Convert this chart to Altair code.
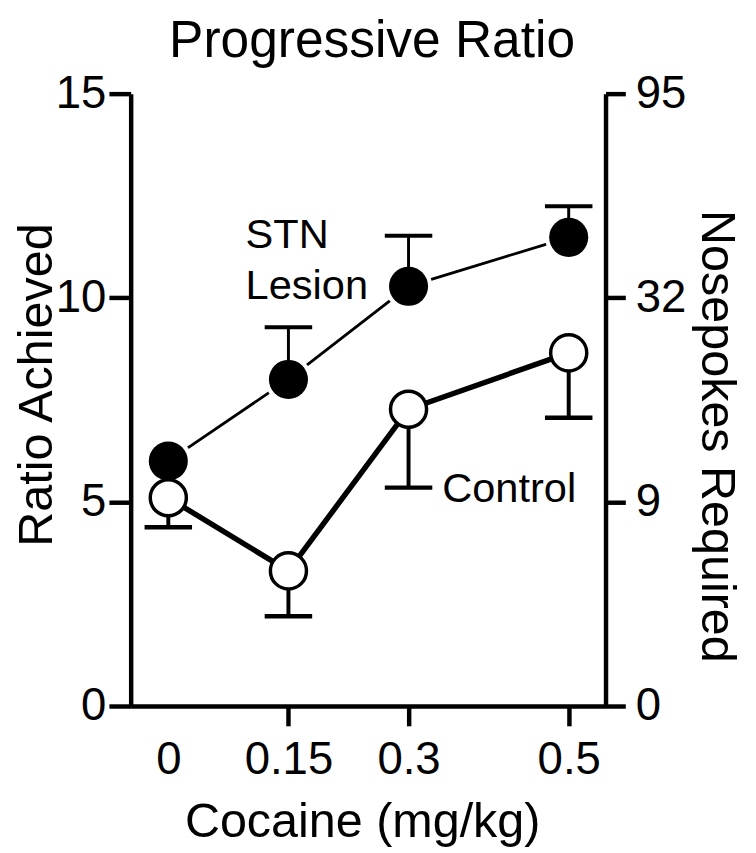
import altair as alt
import pandas as pd

# ---- data ----
doses = [0, 0.15, 0.3, 0.5]
stn_mean = [6.0, 8.0, 10.28, 11.48]
stn_sem = [0.0, 1.28, 1.24, 0.76]
ctrl_mean = [5.1, 3.31, 7.27, 8.65]
ctrl_sem = [0.72, 1.11, 1.92, 1.59]

ratio_ticks = [0, 5, 10, 15]
nosepoke_labels = ["0", "9", "32", "95"]

ann_text = ["STN", "Lesion", "Control"]
ann_x = [0.0965, 0.0965, 0.342]
ann_y = [11.23, 9.98, 5.0]

chart_title = "Progressive Ratio"

FONT = "Liberation Sans"

stn = pd.DataFrame({"dose": doses, "mean": stn_mean,
                    "sem": stn_sem,
                    "end": [m + s for m, s in zip(stn_mean, stn_sem)]})
ctrl = pd.DataFrame({"dose": doses, "mean": ctrl_mean,
                     "sem": ctrl_sem,
                     "end": [m - s for m, s in zip(ctrl_mean, ctrl_sem)]})
ann = pd.DataFrame({"text": ann_text, "x": ann_x, "y": ann_y})
title_df = pd.DataFrame({"text": [chart_title]})

x_scale = alt.Scale(domain=[-0.047, 0.546], nice=False, zero=False)
y_scale = alt.Scale(domain=[0, 15], nice=False, zero=True)

x_axis = alt.Axis(values=doses, format=".2~f", title="Cocaine (mg/kg)",
                  tickSize=20, tickWidth=4.5, domainWidth=4.5,
                  tickOpacity={"condition": {"test": "datum.value === 0", "value": 0}, "value": 1},
                  labelPadding=12, labelFontSize=46, titleFontSize=49,
                  labelFlush=False, labelOverlap=False, labelBound=False,
                  titleX=234, titleY=132, titleBaseline="alphabetic",
                  grid=False)

left_axis = alt.Axis(values=ratio_ticks, orient="left", title="Ratio Achieved",
                     tickSize=22, tickWidth=4.5, domainWidth=4.5,
                     labelFontSize=46, labelPadding=3, titleFontSize=49,
                     titleAngle=270, titleBaseline="middle",
                     titleX=-95, titleY=294, grid=False)

expr = "''"
for v, lab in reversed(list(zip(ratio_ticks, nosepoke_labels))):
    expr = f"datum.value == {v} ? '{lab}' : ({expr})"

right_axis = alt.Axis(values=ratio_ticks, orient="right", title="Nosepokes Required",
                      labelExpr=expr,
                      tickSize=20, tickWidth=4.5, domainWidth=4.5,
                      labelFontSize=46, labelPadding=10, titleFontSize=49,
                      titleAngle=90, titleBaseline="middle",
                      titleX=112, titleY=346, grid=False)


def X(field="dose"):
    return alt.X(f"{field}:Q", scale=x_scale, axis=x_axis)


def Y(field, axis=None):
    return alt.Y(f"{field}:Q", scale=y_scale, axis=axis)


stn_base = alt.Chart(stn)
ctrl_base = alt.Chart(ctrl)

stn_line = stn_base.mark_line(color="black", strokeWidth=2.8).encode(x=X(), y=Y("mean", left_axis))
stn_halo = stn_base.mark_circle(size=2300, color="white", opacity=1).encode(x=X(), y=Y("mean"))
stn_err = stn_base.transform_filter("datum.sem > 0").mark_rule(color="black", strokeWidth=3).encode(
    x=X(), y=Y("mean"), y2="end:Q")
stn_cap = stn_base.transform_filter("datum.sem > 0").mark_tick(
    color="black", orient="horizontal", size=48, thickness=4, opacity=1).encode(x=X(), y=Y("end"))

ctrl_line = ctrl_base.mark_line(color="black", strokeWidth=5.5).encode(x=X(), y=Y("mean"))
ctrl_err = ctrl_base.mark_rule(color="black", strokeWidth=4).encode(x=X(), y=Y("mean"), y2="end:Q")
ctrl_cap = ctrl_base.mark_tick(color="black", orient="horizontal", size=48, thickness=4.5,
                               opacity=1).encode(x=X(), y=Y("end"))

stn_pts = stn_base.mark_circle(size=1560, color="black", opacity=1).encode(x=X(), y=Y("mean"))
ctrl_pts = ctrl_base.mark_point(shape="circle", filled=True, fill="white", stroke="black",
                                strokeWidth=3.5, size=1330, opacity=1).encode(
    x=X(), y=Y("mean", right_axis))

labels = alt.Chart(ann).mark_text(align="left", baseline="alphabetic", fontSize=42,
                                  font=FONT, color="black").encode(
    x=alt.X("x:Q", scale=x_scale, axis=x_axis), y=Y("y"), text="text:N")

title_mark = alt.Chart(title_df).mark_text(align="center", baseline="alphabetic", fontSize=52,
                                           font=FONT, color="black").encode(
    x=alt.value(244), y=alt.value(-37), text="text:N")

chart = alt.layer(
    stn_line, stn_halo, stn_err, stn_cap,
    ctrl_line, ctrl_err, ctrl_cap,
    stn_pts, ctrl_pts, labels, title_mark
).resolve_scale(y="independent").properties(
    width=480, height=619,
    padding={"left": 124, "top": 82, "right": 144, "bottom": 144},
    autosize=alt.AutoSizeParams(type="none"),
).configure(font=FONT).configure_view(stroke=None).configure_axis(
    labelColor="black", titleColor="black", domainColor="black", tickColor="black",
    labelFont=FONT, titleFont=FONT, titleFontWeight="normal"
)

chart.save("out.html", embed_options={"renderer": "svg", "actions": False})
